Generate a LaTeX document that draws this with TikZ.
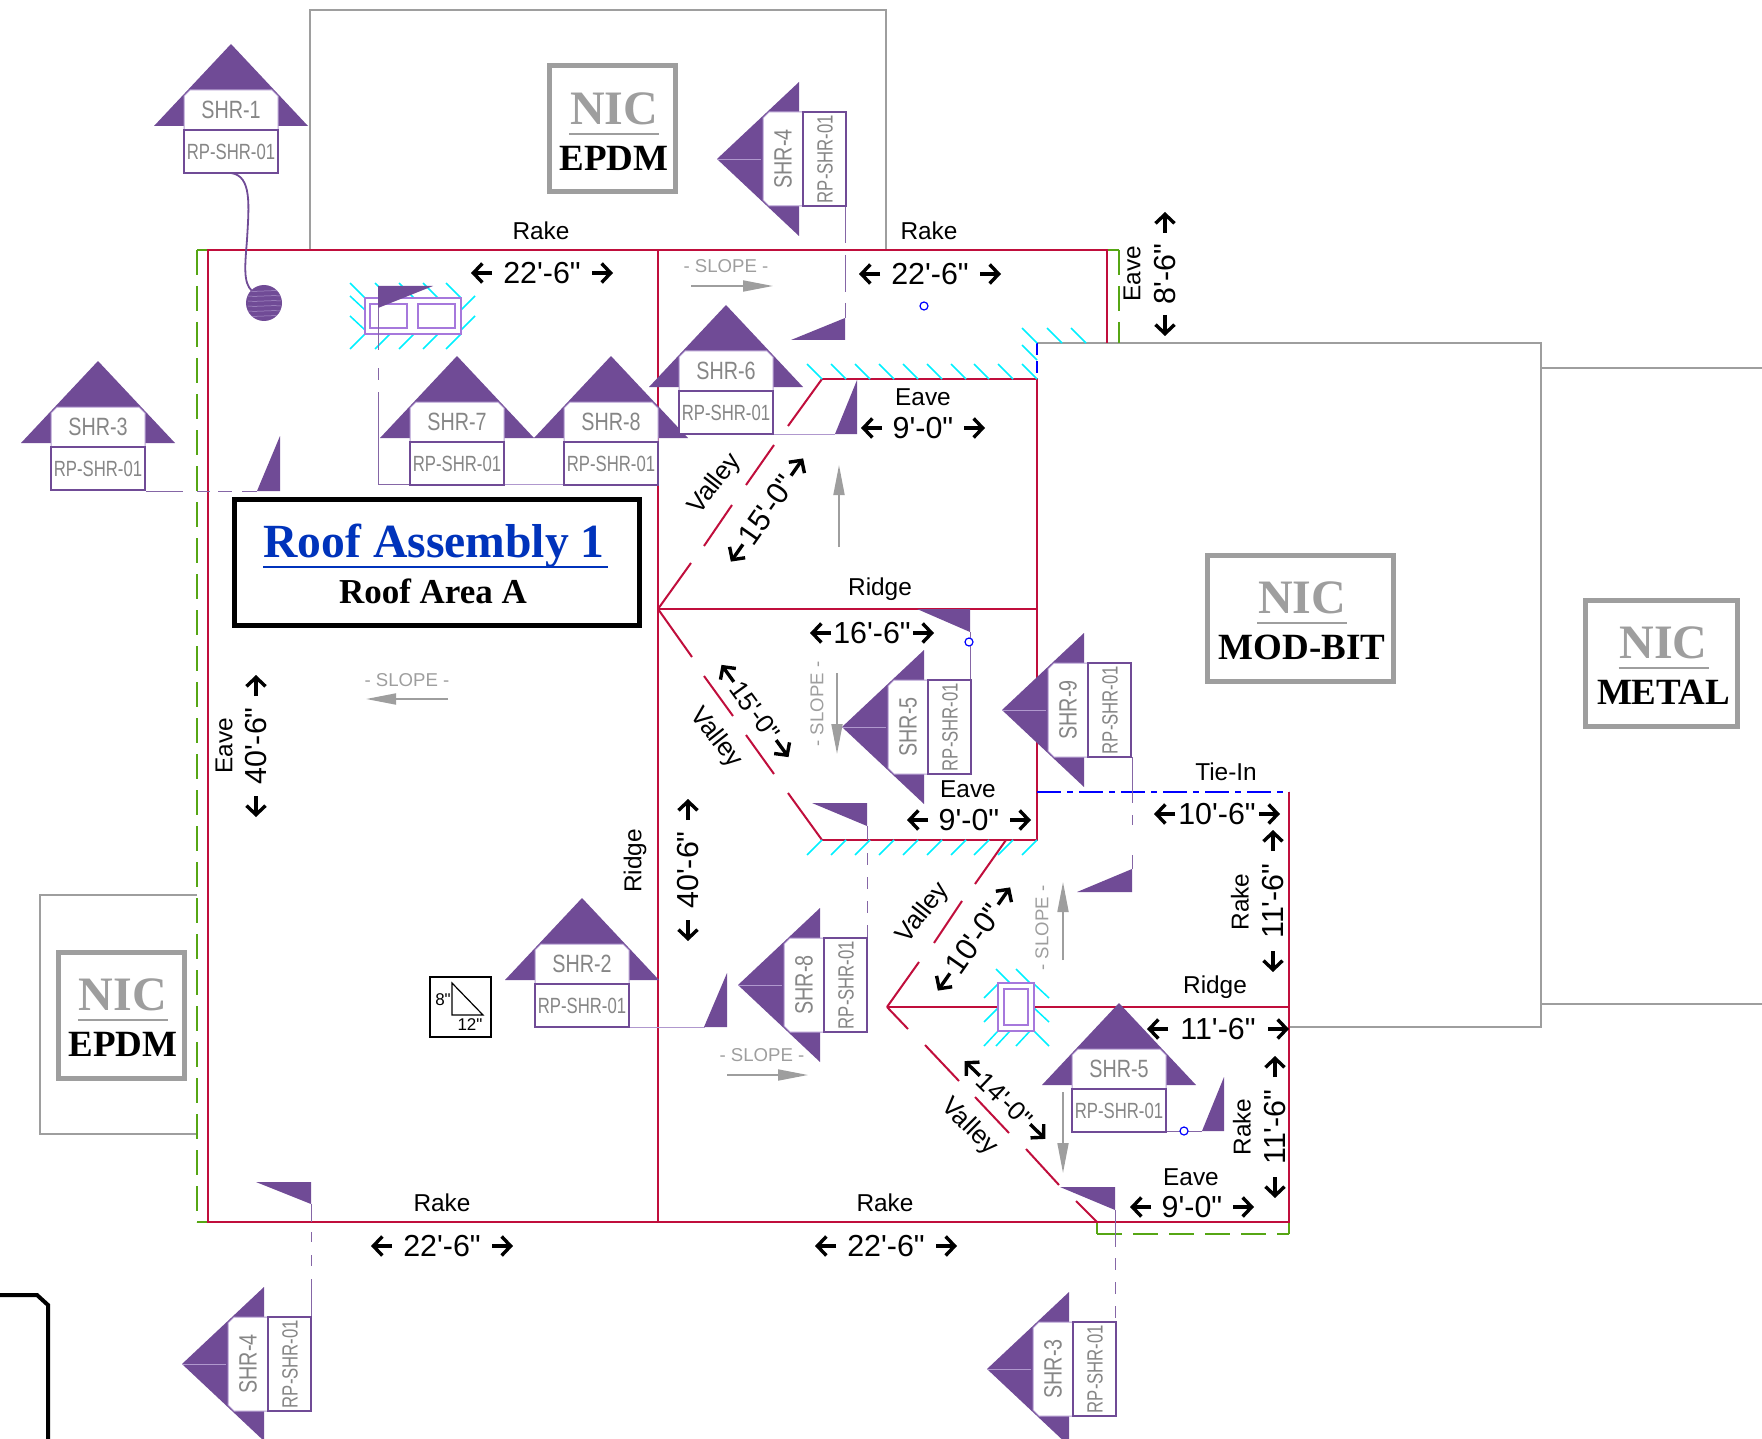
\documentclass[tikz,border=0pt]{standalone}
\usepackage{fontspec}
\setmainfont{Liberation Serif}
\setsansfont{Liberation Sans}[Ligatures=TeXOff]
\usetikzlibrary{arrows.meta}
\definecolor{roofred}{RGB}{192,14,60}
\definecolor{eavegreen}{RGB}{86,166,20}
\definecolor{tagpurple}{RGB}{112,75,150}
\definecolor{curbpurple}{RGB}{166,120,220}
\definecolor{lightpurple}{RGB}{176,152,206}
\definecolor{hatchcyan}{RGB}{0,240,255}
\definecolor{nicgray}{RGB}{158,158,158}
\definecolor{textgray}{RGB}{134,134,134}
\definecolor{titleblue}{RGB}{0,51,187}
\tikzset{
  edgeline/.style={roofred,line width=1pt},
  eaveline/.style={eavegreen,line width=1pt,dash pattern=on 12.5pt off 5.5pt},
  nicline/.style={nicgray,line width=.9pt},
  hatch/.style={hatchcyan,line width=.75pt},
  leader/.style={tagpurple!85,line width=.4pt},
  curb/.style={curbpurple,line width=.9pt},
  tiein/.style={blue,line width=1pt},
  dimlabel/.style={font=\fontsize{15.2}{17}\selectfont\sffamily,inner sep=0pt},
  dimsmall/.style={font=\fontsize{13}{15}\selectfont\sffamily,inner sep=0pt},
  dimarrow/.style={line width=1.7pt,-{Straight Barb[length=4.5pt,width=9.5pt]}},
  edgelabel/.style={font=\fontsize{12.2}{14}\selectfont\sffamily,inner sep=0pt},
  valleylabel/.style={font=\fontsize{12.9}{15}\selectfont\sffamily,inner sep=0pt},
  slopelabel/.style={font=\fontsize{9.3}{11}\selectfont\sffamily,text=nicgray,inner sep=0pt},
  slopearrow/.style={nicgray,line width=.9pt,-{Triangle[length=15pt,width=5.5pt]}},
  tagname/.style={font=\fontsize{12.5}{14}\selectfont\sffamily,text=textgray,inner sep=0pt,transform shape},
  tagcode/.style={font=\fontsize{11}{13}\selectfont\sffamily,text=textgray,inner sep=0pt,transform shape},
  bluedot/.style={blue,line width=.6pt,fill=white}
}
\newcommand{\shrtag}[5]{
  \begin{scope}[shift={(#2,#3)},rotate=#4]
    \fill[tagpurple] (0,0)--(77,82)--(-77,82)--cycle;
    \ifnum#4=90 \draw[lightpurple,line width=.4pt] (0,0)--(0,44); \fi
    \filldraw[fill=white,draw=lightpurple,line width=.5pt] (-41,46)--(41,46)--(47,52)--(47,86)--(-47,86)--(-47,52)--cycle;
    \filldraw[fill=white,draw=tagpurple,line width=1pt] (-47,86) rectangle (47,129);
    \node[tagname] (#1name) at (0,66) {\scalebox{.79}[1]{#5}};
    \node[tagcode] (#1code) at (0,108) {\scalebox{.76}[1]{RP-SHR-01}};
  \end{scope}
}
\newcommand{\dimtext}[7][dimlabel]{
  \begin{scope}[shift={(#3,#4)},rotate=#5]
    \node[#1,transform shape] (#2) at (0,0) {#6};
    \draw[dimarrow] (-#7,0)--++(-21,0);
    \draw[dimarrow] (#7,0)--++(21,0);
  \end{scope}
}
\newcommand{\nicbox}[6]{
  \begin{scope}[shift={(#2,#3)}]
    \draw[nicgray,line width=2.5pt] (-#4,-#5) rectangle (#4,#5);
    \node[font=\fontsize{24}{26}\selectfont\bfseries,text=nicgray,inner sep=0pt] (#1nic) at (2,-20) {NIC};
    \draw[nicgray,line width=1.2pt] (-43,5)--(47,5);
    \node[font=\fontsize{18.5}{20}\selectfont\bfseries,inner sep=0pt] (#1type) at (2,29) {#6};
  \end{scope}
}
\begin{document}
\begin{tikzpicture}[x=.5pt,y=-.5pt]
\useasboundingbox (0,0) rectangle (1762,1439);
\draw[nicline] (310,250)--(310,10)--(886,10)--(886,250);
\draw[nicline] (197,895)--(40,895)--(40,1134)--(197,1134);
\draw[nicline] (1037,343)--(1541,343)--(1541,1027)--(1289,1027);
\draw[nicline] (1541,368)--(1762,368);
\draw[nicline] (1541,1004)--(1762,1004);
\nicbox{top}{612}{129}{63}{63}{EPDM}
\nicbox{left}{121}{1015}{63}{63}{EPDM}
\nicbox{mod}{1300}{618}{93}{63}{MOD-BIT}
\nicbox{metal}{1661.5}{663}{76}{63}{METAL}
\draw[eavegreen,line width=1pt] (208,250)--(197,250);
\draw[eaveline] (197,250)--(197,1222);
\draw[eavegreen,line width=1pt] (197,1222)--(208,1222);
\draw[eavegreen,line width=1pt] (1107,250)--(1119,250);
\draw[eaveline] (1119,250)--(1119,343);
\draw[eavegreen,line width=1pt] (1097,1222)--(1097,1234);
\draw[eaveline] (1097,1234)--(1289,1234);
\draw[eavegreen,line width=1pt] (1289,1234)--(1289,1222);
\draw[edgeline] (1107,343)--(1107,250)--(208,250)--(208,1222)--(1097,1222);
\draw[edgeline] (658,250)--(658,1222);
\draw[edgeline] (658,609)--(1037,609);
\draw[edgeline] (822,379)--(1037,379)--(1037,840)--(822,840);
\draw[edgeline] (1289,792)--(1289,1222)--(1097,1222);
\draw[edgeline] (887,1007)--(1289,1007);
\foreach \a/\b/\c/\d in {822/379/788/426,774/445/746/485,732/505/704/546,691/563/658/609,658/609/692/657,704/676/733/716,746/735/774/774,788/793/822/840,1006/840/975/884,962/901/934/943,919/962/887/1007,887/1007/908/1029,925/1045/959/1081,975/1097/1009/1133,1026/1149/1059/1185,1076/1201/1097/1222}{
  \draw[edgeline] (\a,\b)--(\c,\d);
}
\draw[tiein,dash pattern=on 12pt off 3pt on 3pt off 3pt] (1037,792)--(1289,792);
\draw[tiein,dash pattern=on 6pt off 3pt] (1037,343)--(1037,379);
\foreach \x in {822,846,870,894,918,942,966,989,1013,1037}{
  \draw[hatch] (\x,379)--++(-15,-15);
}
\foreach \x in {822,846,870,894,918,942,966,989,1013,1037}{
  \draw[hatch] (\x,840)--++(-15,15);
}
\foreach \x in {1037,1062,1086}{
  \draw[hatch] (\x,343)--++(-15,-15);
}
\draw[hatch] (1037,360)--++(-15,-15);
\foreach \x in {365,390,414,438,461}{
  \draw[hatch] (\x,298)--++(-15,-15);
  \draw[hatch] (\x,334)--++(-15,15);
}
\foreach \y in {310,330}{
  \draw[hatch] (365,\y)--++(-15,-14);
  \draw[hatch] (461,\y)--++(14,-14);
}
\draw[curb] (365,298) rectangle (461,334);
\draw[curb] (370,304) rectangle (407,328);
\draw[curb] (418,304) rectangle (455,328);
\draw[hatch] (996,969)--++(14,14);
\draw[hatch] (1016,969)--++(14,14);
\foreach \y in {984,1008}{
  \draw[hatch] (998,\y)--++(-14,14);
  \draw[hatch] (1034,\y)--++(15,14);
}
\foreach \x in {998,1010,1030}{
  \draw[hatch] (\x,1031)--++(-14,15);
}
\draw[hatch] (1034,1031)--++(15,15);
\filldraw[fill=white,draw=curbpurple,line width=.9pt] (998,983) rectangle (1034,1031);
\draw[curb] (1004,989) rectangle (1028,1025);
\draw[tagpurple,line width=.9pt] (231,173) .. controls (252,176) and (249,205) .. (247,240) .. controls (245,265) and (243,283) .. (252,291);
\fill[tagpurple] (264,303) circle (18);
\begin{scope}
  \clip (264,303) circle (18);
  \foreach \y in {291,296,301,306,311,316}{
    \draw[lightpurple,line width=.25pt] (248,\y) .. controls (258,\y+1) and (270,\y-1) .. (281,\y);
  }
\end{scope}
\draw[leader] (378,308)--(378,350);
\draw[leader] (378,368)--(378,380);
\draw[leader] (378,392)--(378,484)--(409,484);
\draw[leader,lightpurple] (504,484)--(563,484);
\draw[leader] (146,491)--(183,491);
\draw[leader] (197,491)--(210,491);
\draw[leader] (218,491)--(232,491);
\draw[leader] (242,491)--(257,491);
\draw[leader] (845,205)--(845,243);
\draw[leader] (845,255)--(845,292);
\draw[leader] (845,303)--(845,318);
\draw[leader,lightpurple] (773,434)--(835,434);
\draw[leader] (970,632)--(970,680);
\draw[leader,lightpurple] (630,1027)--(705,1027);
\draw[leader] (867,826)--(867,840);
\draw[leader,dash pattern=on 6pt off 6pt] (867,853)--(867,939);
\draw[leader] (1132,757)--(1132,803);
\draw[leader] (1132,815)--(1132,825);
\draw[leader] (1132,855)--(1132,869);
\draw[leader] (1166,1131)--(1202,1131);
\draw[leader] (1115,1210)--(1115,1247);
\draw[leader,dash pattern=on 6pt off 6pt] (1115,1258)--(1115,1321);
\draw[leader] (311,1204)--(311,1222);
\draw[leader] (311,1232)--(311,1242);
\draw[leader] (311,1255)--(311,1266);
\draw[leader] (311,1279)--(311,1316);
\fill[tagpurple] (378,286)--(433,286)--(378,308)--cycle;
\fill[tagpurple] (280,436)--(280,491)--(257,491)--cycle;
\fill[tagpurple] (845,318)--(845,340)--(791,340)--cycle;
\fill[tagpurple] (857,380)--(857,434)--(835,434)--cycle;
\fill[tagpurple] (917,609)--(970,609)--(970,632)--cycle;
\fill[tagpurple] (727,973)--(727,1027)--(704,1027)--cycle;
\fill[tagpurple] (812,803)--(867,803)--(867,826)--cycle;
\fill[tagpurple] (1077,892)--(1132,892)--(1132,869)--cycle;
\fill[tagpurple] (1224,1077)--(1224,1131)--(1202,1131)--cycle;
\fill[tagpurple] (1060,1187)--(1115,1187)--(1115,1210)--cycle;
\fill[tagpurple] (256,1182)--(311,1182)--(311,1204)--cycle;
\filldraw[bluedot] (924,306) circle (4);
\filldraw[bluedot] (969,642) circle (4);
\filldraw[bluedot] (1184,1131) circle (4);
\shrtag{shrone}{231}{44}{0}{SHR-1}
\shrtag{shrthree}{98}{361}{0}{SHR-3}
\shrtag{shrseven}{457}{356}{0}{SHR-7}
\shrtag{shreight}{611}{356}{0}{SHR-8}
\shrtag{shrsix}{726}{305}{0}{SHR-6}
\shrtag{shrfour}{717}{159}{90}{SHR-4}
\shrtag{shrtwo}{582}{898}{0}{SHR-2}
\shrtag{shreightb}{738}{985}{90}{SHR-8}
\shrtag{shrfive}{842}{727}{90}{SHR-5}
\shrtag{shrnine}{1002}{710}{90}{SHR-9}
\shrtag{shrfiveb}{1119}{1003}{0}{SHR-5}
\shrtag{shrfourb}{182}{1364}{90}{SHR-4}
\shrtag{shrthreeb}{987}{1369}{90}{SHR-3}
\draw[black,line width=2.5pt] (234.5,499.5) rectangle (639.5,625.5);
\node[font=\fontsize{23.8}{26}\selectfont\bfseries,text=titleblue,inner sep=0pt,anchor=base] (title) at (434,557) {Roof Assembly 1};
\draw[titleblue,line width=.7pt] (263,567)--(608,567);
\node[font=\fontsize{17.5}{20}\selectfont\bfseries,inner sep=0pt,anchor=base] (area) at (433,603) {Roof Area A};
\node[edgelabel] (rakea) at (541,231) {Rake};
\node[edgelabel] (rakeb) at (929,231) {Rake};
\node[edgelabel] (rakec) at (442,1203) {Rake};
\node[edgelabel] (raked) at (885,1203) {Rake};
\node[edgelabel,rotate=90] (rakee) at (1240,902) {Rake};
\node[edgelabel,rotate=90] (rakef) at (1242,1127) {Rake};
\node[edgelabel] (eavea) at (923,397) {Eave};
\node[edgelabel] (eaveb) at (968,789) {Eave};
\node[edgelabel] (eavec) at (1191,1177) {Eave};
\node[edgelabel,rotate=90] (eaved) at (224,746) {Eave};
\node[edgelabel,rotate=90] (eavee) at (1132,274) {Eave};
\node[edgelabel] (ridgea) at (880,589) {Ridge};
\node[edgelabel] (ridgeb) at (1215,987) {Ridge};
\node[edgelabel,rotate=90] (ridgec) at (635,861) {Ridge};
\node[edgelabel] (tiein) at (1226,772) {Tie-In};
\node[valleylabel,rotate=52] (valleya) at (715,484) {Valley};
\node[valleylabel,rotate=-52] (valleyb) at (716,738) {Valley};
\node[valleylabel,rotate=52] (valleyc) at (923,913) {Valley};
\node[valleylabel,rotate=-45] (valleyd) at (969,1127) {Valley};
\dimtext{dima}{542}{273}{0}{22'-6"}{50}
\dimtext{dimb}{930}{274}{0}{22'-6"}{50}
\dimtext{dimc}{442}{1246}{0}{22'-6"}{50}
\dimtext{dimd}{886}{1246}{0}{22'-6"}{50}
\dimtext{dime}{923}{428}{0}{9'-0"}{41}
\dimtext{dimf}{969}{820}{0}{9'-0"}{41}
\dimtext{dimg}{1192}{1207}{0}{9'-0"}{41}
\dimtext{dimh}{872}{633}{0}{16'-6"}{41}
\dimtext{dimi}{1217}{814}{0}{10'-6"}{42}
\dimtext{dimj}{1218}{1029}{0}{11'-6"}{50}
\dimtext{dimk}{1273}{901}{90}{11'-6"}{50}
\dimtext{diml}{1275}{1127}{90}{11'-6"}{50}
\dimtext{dimm}{256}{746}{90}{40'-6"}{50}
\dimtext{dimn}{688}{870}{90}{40'-6"}{50}
\dimtext{dimo}{1165}{274}{90}{8'-6"}{41}
\dimtext{dimp}{767}{510}{55}{15'-0"}{42}
\dimtext{dimq}{974}{939}{55}{10'-0"}{42}
\dimtext[dimsmall]{dimr}{755}{711}{-54}{15'-0"}{36}
\dimtext[dimsmall]{dims}{1005}{1100}{-44}{14'-0"}{35}
\node[slopelabel] (slopea) at (726,266) {- SLOPE -};
\node[slopelabel] (slopeb) at (407,680) {- SLOPE -};
\node[slopelabel] (slopec) at (762,1055) {- SLOPE -};
\node[slopelabel,rotate=90] (sloped) at (817,704) {- SLOPE -};
\node[slopelabel,rotate=90] (slopee) at (1042,928) {- SLOPE -};
\draw[slopearrow] (691,286)--(773,286);
\draw[slopearrow] (448,699)--(366,699);
\draw[slopearrow] (727,1075)--(808,1075);
\draw[slopearrow] (837,673)--(837,754);
\draw[slopearrow] (1063,960)--(1063,882);
\draw[slopearrow] (1063,1092)--(1063,1173);
\draw[slopearrow] (839,547)--(839,465);
\draw[line width=.7pt] (430,977) rectangle (491,1037);
\draw[line width=.6pt] (452,983)--(452,1015)--(483,1015)--cycle;
\node[font=\fontsize{8.5}{10}\selectfont\sffamily,inner sep=0pt] (pitchrise) at (443,1000) {8"};
\node[font=\fontsize{8.5}{10}\selectfont\sffamily,inner sep=0pt] (pitchrun) at (470,1025) {12"};
\draw[line width=2pt] (0,1295)--(37,1295)--(48,1305)--(48,1439);
\end{tikzpicture}
\end{document}
